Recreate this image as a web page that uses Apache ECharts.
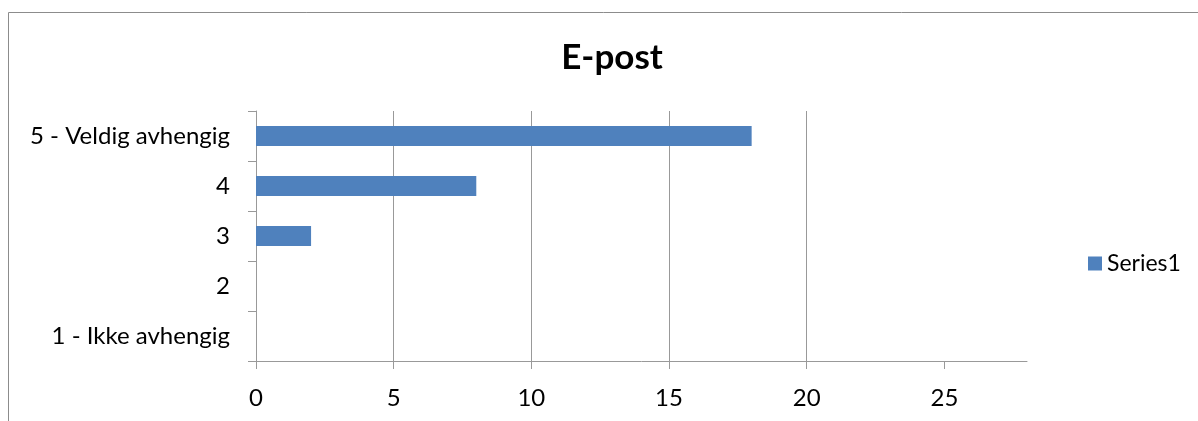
<!DOCTYPE html>
<html>
<head>
<meta charset="utf-8">
<script src="https://cdn.jsdelivr.net/npm/echarts@6/dist/echarts.min.js"></script>
<style>
  html, body { margin: 0; padding: 0; background: #fff; }
  #chart { width: 1198px; height: 421px; }
</style>
</head>
<body>
<div id="chart"></div>
<script>
// categories bottom -> top, as the category y axis draws them
const categories = ['1 - Ikke avhengig', '2', '3', '4', '5 - Veldig avhengig'];
const series1 = [0, 0, 2, 8, 18];
const xTicks = [0, 5, 10, 15, 20, 25];

const chart = echarts.init(document.getElementById('chart'));

const option = {
    animation: false,
    textStyle: { fontFamily: 'Lato, Open Sans, sans-serif' },
    title: {
        text: 'E-post',
        left: 607,
        textAlign: 'center',
        top: 35,
        textStyle: { fontSize: 35, fontWeight: 'bold', color: '#000' }
    },
    graphic: [{
        type: 'rect',
        shape: { x: 8.5, y: 12.5, width: 1400, height: 600 },
        style: { fill: 'none', stroke: '#8c8c8c', lineWidth: 1 },
        silent: true
    }],
    legend: {
        left: 1083,
        top: 247,
        itemWidth: 14,
        itemHeight: 14,
        itemGap: 8,
        icon: 'rect',
        textStyle: { fontSize: 23, color: '#000' },
        data: ['Series1']
    },
    grid: {
        left: 256,
        top: 111,
        right: 171,
        bottom: 60
    },
    xAxis: {
        type: 'value',
        min: 0,
        max: 28,
        interval: 5,
        axisLine: { show: true, lineStyle: { color: '#999', width: 1 } },
        axisTick: { show: true, length: 8, customValues: xTicks, lineStyle: { color: '#999' } },
        axisLabel: { customValues: xTicks, margin: 25, fontSize: 24, color: '#000' },
        splitLine: { show: true, showMinLine: false, showMaxLine: false, lineStyle: { color: '#999', width: 1 } }
    },
    yAxis: {
        type: 'category',
        data: categories,
        axisLine: { show: true, lineStyle: { color: '#999', width: 1 } },
        axisTick: { show: true, length: 8, alignWithLabel: false, lineStyle: { color: '#999' } },
        axisLabel: { margin: 26, fontSize: 24, color: '#000' },
        splitLine: { show: false }
    },
    series: [{
        name: 'Series1',
        type: 'bar',
        data: series1,
        barWidth: 20,
        itemStyle: { color: '#4f81bd' }
    }]
};

chart.setOption(option);
</script>
</body>
</html>
